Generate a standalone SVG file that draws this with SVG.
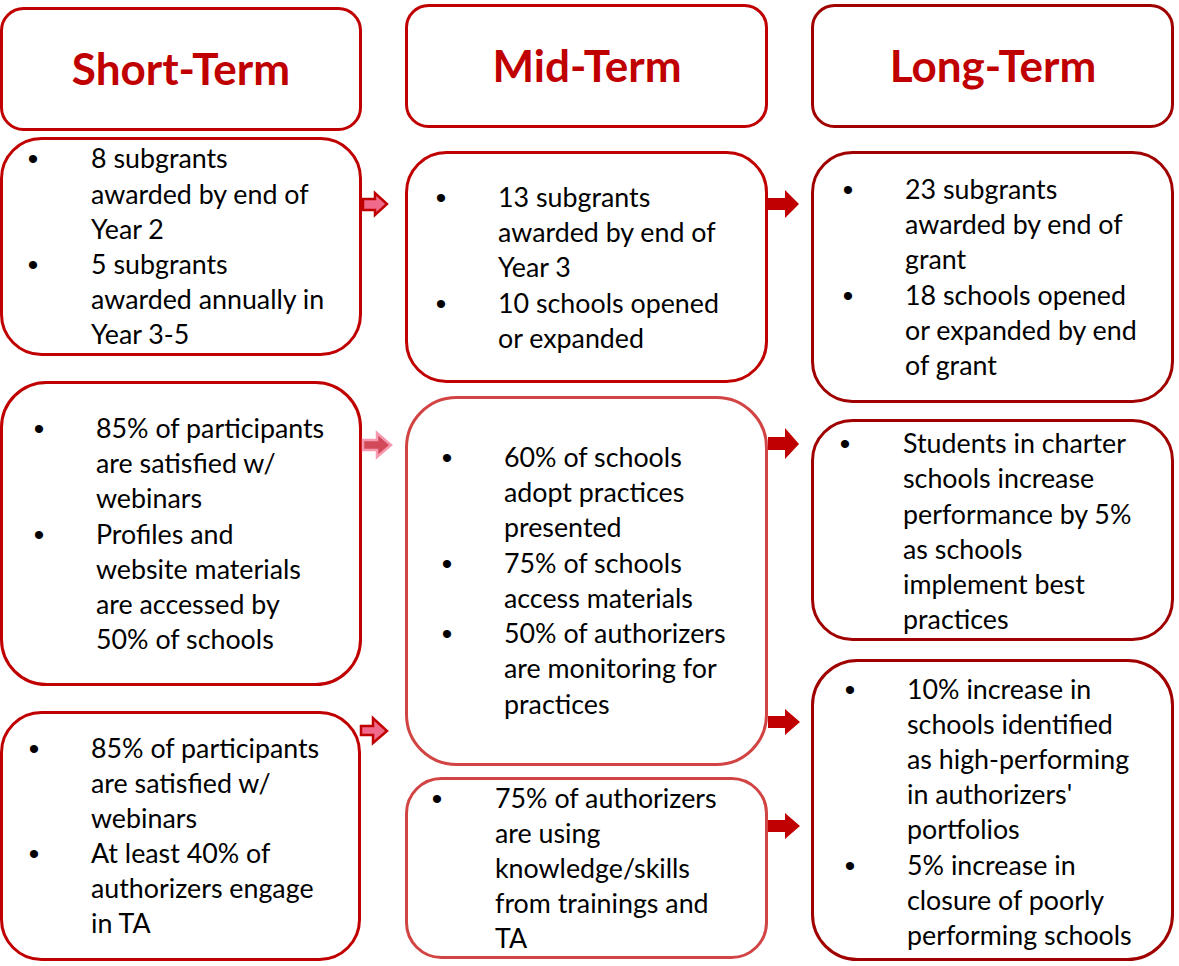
<svg xmlns="http://www.w3.org/2000/svg" width="1179" height="966" viewBox="0 0 1179 966">
<style>
.bg{fill:#ffffff}
.box{fill:#ffffff;stroke-width:3}
.c1{stroke:#c00000}
.c2{stroke:#d24444}
.c3{stroke:#a00000}
.hd{font-family:Lato,"Liberation Sans",sans-serif;font-weight:bold;font-size:44px;fill:#c00000;text-anchor:middle}
.tx{font-family:Lato,"Liberation Sans",sans-serif;font-size:26.8px;fill:#000000}
.bu{font-family:"Liberation Sans",sans-serif;font-size:30px;fill:#000000;text-anchor:middle}
.arrL{fill:#f06a8c;stroke:#c00000;stroke-width:2.5}
.arrL2{fill:#d24a5a;stroke:#f59ab0;stroke-width:2.5}
.arrR{fill:#c00000}
</style>
<rect class="bg" x="0" y="0" width="1179" height="966"/>

<g id="hdr-short">
<rect class="box c1" x="1.5" y="8.5" width="359" height="121" rx="22"/>
<text class="hd" x="181" y="85">Short-Term</text>
</g>
<g id="hdr-mid">
<rect class="box c1" x="406.5" y="5.5" width="360" height="121" rx="22"/>
<text class="hd" x="587" y="82">Mid-Term</text>
</g>
<g id="hdr-long">
<rect class="box c3" x="812.5" y="5.5" width="360" height="121" rx="22"/>
<text class="hd" x="993" y="82">Long-Term</text>
</g>

<g id="box-a">
<rect class="box c1" x="1.5" y="138.5" width="359" height="216" rx="40"/>
<text class="bu"><tspan x="33" y="169">•</tspan><tspan x="33" y="275">•</tspan></text>
<text class="tx"><tspan x="91" y="168">8 subgrants</tspan><tspan x="91" y="204">awarded by end of</tspan><tspan x="91" y="239">Year 2</tspan><tspan x="91" y="274">5 subgrants</tspan><tspan x="91" y="309">awarded annually in</tspan><tspan x="91" y="344">Year 3-5</tspan></text>
</g>
<g id="box-b">
<rect class="box c1" x="1.5" y="382.5" width="359" height="302" rx="45"/>
<text class="bu"><tspan x="39" y="439">•</tspan><tspan x="39" y="545">•</tspan></text>
<text class="tx"><tspan x="96" y="438">85% of participants</tspan><tspan x="96" y="473">are satisfied w/</tspan><tspan x="96" y="508">webinars</tspan><tspan x="96" y="544">Profiles and</tspan><tspan x="96" y="579">website materials</tspan><tspan x="96" y="614">are accessed by</tspan><tspan x="96" y="649">50% of schools</tspan></text>
</g>
<g id="box-c">
<rect class="box c1" x="1.5" y="712.5" width="358" height="247" rx="40"/>
<text class="bu"><tspan x="34" y="759">•</tspan><tspan x="34" y="864">•</tspan></text>
<text class="tx"><tspan x="91" y="758">85% of participants</tspan><tspan x="91" y="793">are satisfied w/</tspan><tspan x="91" y="828">webinars</tspan><tspan x="91" y="863">At least 40% of</tspan><tspan x="91" y="898">authorizers engage</tspan><tspan x="91" y="933">in TA</tspan></text>
</g>

<g id="box-d">
<rect class="box c1" x="406.5" y="152.5" width="360" height="229" rx="40"/>
<text class="bu"><tspan x="441" y="208">•</tspan><tspan x="441" y="314">•</tspan></text>
<text class="tx"><tspan x="498" y="207">13 subgrants</tspan><tspan x="498" y="242">awarded by end of</tspan><tspan x="498" y="277">Year 3</tspan><tspan x="498" y="313">10 schools opened</tspan><tspan x="498" y="348">or expanded</tspan></text>
</g>
<g id="box-e">
<rect class="box c2" x="406.5" y="397.5" width="360" height="367" rx="50"/>
<text class="bu"><tspan x="447" y="468">•</tspan><tspan x="447" y="574">•</tspan><tspan x="447" y="644">•</tspan></text>
<text class="tx"><tspan x="504" y="467">60% of schools</tspan><tspan x="504" y="502">adopt practices</tspan><tspan x="504" y="537">presented</tspan><tspan x="504" y="573">75% of schools</tspan><tspan x="504" y="608">access materials</tspan><tspan x="504" y="643">50% of authorizers</tspan><tspan x="504" y="678">are monitoring for</tspan><tspan x="504" y="714">practices</tspan></text>
</g>
<g id="box-f">
<rect class="box c2" x="406.5" y="778.5" width="360" height="179" rx="35"/>
<text class="bu"><tspan x="437" y="809">•</tspan></text>
<text class="tx"><tspan x="495" y="808">75% of authorizers</tspan><tspan x="495" y="843">are using</tspan><tspan x="495" y="878">knowledge/skills</tspan><tspan x="495" y="913">from trainings and</tspan><tspan x="495" y="948">TA</tspan></text>
</g>

<g id="box-g">
<rect class="box c3" x="812.5" y="152.5" width="360" height="249" rx="40"/>
<text class="bu"><tspan x="848" y="200">•</tspan><tspan x="848" y="306">•</tspan></text>
<text class="tx"><tspan x="905" y="199">23 subgrants</tspan><tspan x="905" y="234">awarded by end of</tspan><tspan x="905" y="269">grant</tspan><tspan x="905" y="305">18 schools opened</tspan><tspan x="905" y="340">or expanded by end</tspan><tspan x="905" y="375">of grant</tspan></text>
</g>
<g id="box-h">
<rect class="box c3" x="812.5" y="420.5" width="360" height="219" rx="40"/>
<text class="bu"><tspan x="845" y="454">•</tspan></text>
<text class="tx"><tspan x="903" y="453">Students in charter</tspan><tspan x="903" y="488">schools increase</tspan><tspan x="903" y="524">performance by 5%</tspan><tspan x="903" y="559">as schools</tspan><tspan x="903" y="594">implement best</tspan><tspan x="903" y="629">practices</tspan></text>
</g>
<g id="box-i">
<rect class="box c3" x="812.5" y="660.5" width="360" height="299" rx="45"/>
<text class="bu"><tspan x="850" y="700">•</tspan><tspan x="850" y="876">•</tspan></text>
<text class="tx"><tspan x="907" y="699">10% increase in</tspan><tspan x="907" y="734">schools identified</tspan><tspan x="907" y="769">as high-performing</tspan><tspan x="907" y="804">in authorizers'</tspan><tspan x="907" y="839">portfolios</tspan><tspan x="907" y="875">5% increase in</tspan><tspan x="907" y="910">closure of poorly</tspan><tspan x="907" y="945">performing schools</tspan></text>
</g>

<g id="connectors">
<polygon class="arrL" points="363,199 375,199 375,193 387,204 375,215 375,210 363,210"/>
<polygon class="arrL2" points="363,440 377,440 377,433 391,445 377,457 377,450 363,450"/>
<polygon class="arrL" points="361,726 373,726 373,718 387,731 373,743 373,735 361,735"/>
<polygon class="arrR" points="768,198 785,198 785,190 799,204 785,218 785,210 768,210"/>
<polygon class="arrR" points="768,437 785,437 785,428 799,444 785,459 785,450 768,450"/>
<polygon class="arrR" points="768,716 785,716 785,709 800,722 785,735 785,728 768,728"/>
<polygon class="arrR" points="768,820 785,820 785,813 800,826 785,839 785,832 768,832"/>
</g>
</svg>
